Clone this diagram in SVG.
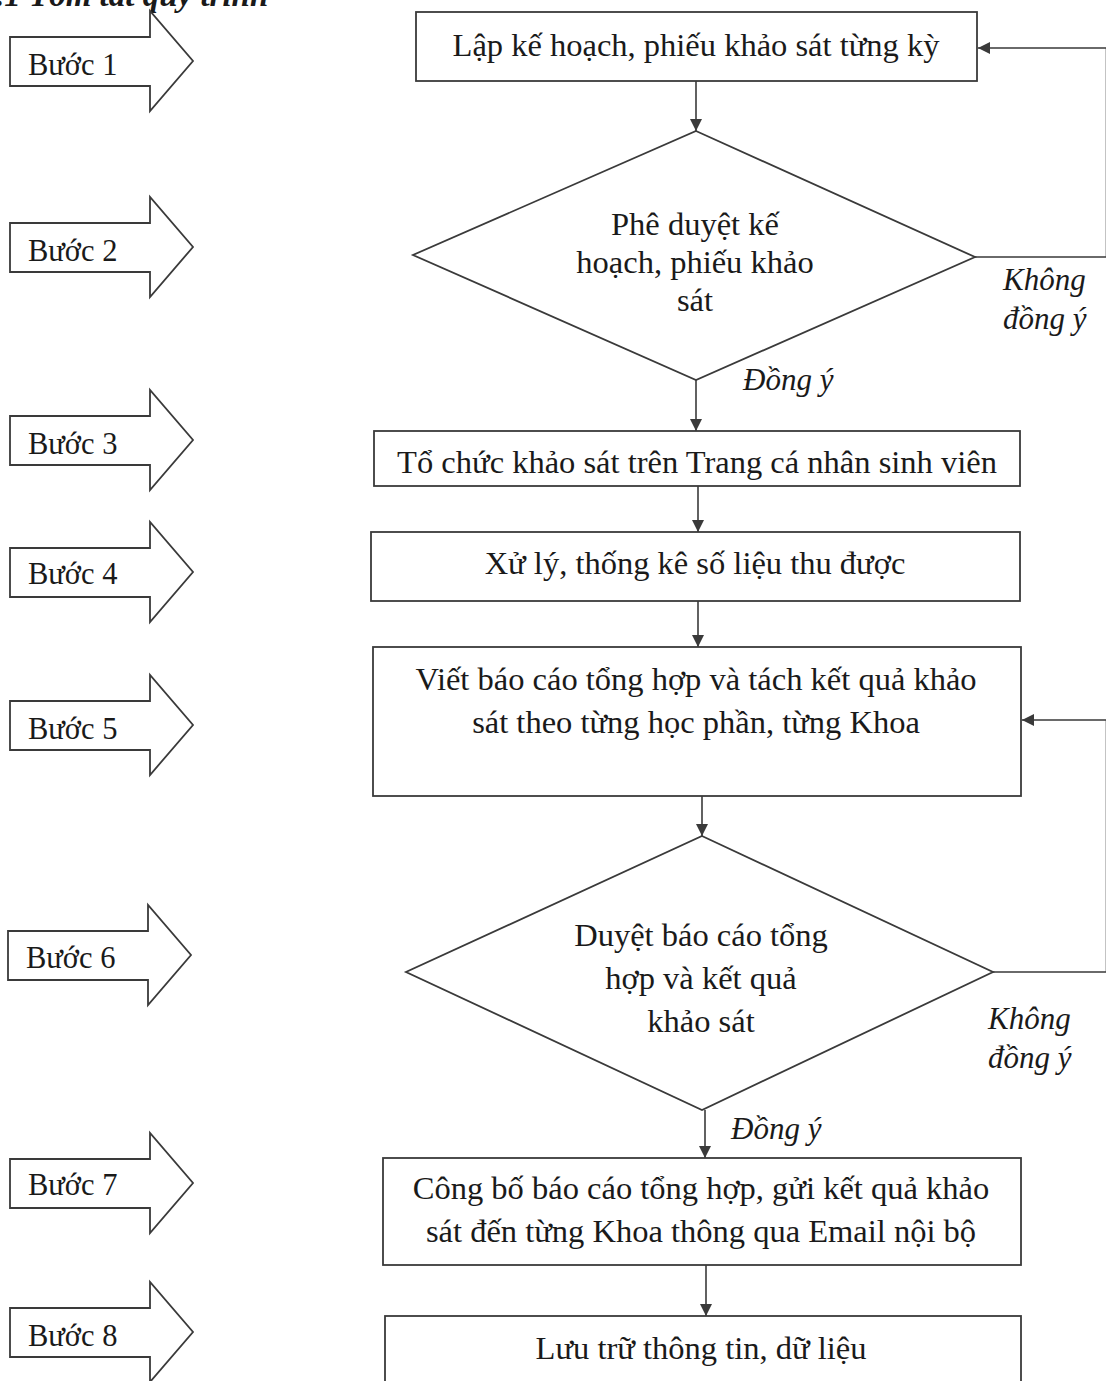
<svg xmlns="http://www.w3.org/2000/svg" xmlns:xlink="http://www.w3.org/1999/xlink" width="1106" height="1381" viewBox="0 0 1106 1381">
<style>
.shape{fill:#fff;stroke:#3a3a3a;stroke-width:1.8}
.conn{fill:none;stroke:#3a3a3a;stroke-width:1.6}
.t{font-family:"Liberation Serif","Times New Roman",serif;font-size:32.5px;fill:#1a1a1a}
.s{font-size:30.5px}
.c{text-anchor:middle}
.i{font-style:italic;font-size:31px}
.title{font-family:"Liberation Serif","Times New Roman",serif;font-size:33px;font-weight:bold;font-style:italic;fill:#1a1a1a}
</style>
<defs>
<marker id="ah" viewBox="0 0 10 10" refX="10" refY="5" markerWidth="12" markerHeight="12" markerUnits="userSpaceOnUse" orient="auto">
<path d="M0,0 L10,5 L0,10 Z" fill="#3a3a3a"/>
</marker>
<path id="blk" d="M0,-24 L140,-24 L140,-50 L183,0 L140,50 L140,25 L0,25 Z"/>
</defs>
<rect width="1106" height="1381" fill="#fff"/>
<text class="title" x="-4" y="6">.1 Tóm tắt quy trình</text>

<g id="step1"><use xlink:href="#blk" class="shape" transform="translate(10,61)"/><text class="t s" x="28" y="75">Bước 1</text></g>
<g id="step2"><use xlink:href="#blk" class="shape" transform="translate(10,247)"/><text class="t s" x="28" y="261">Bước 2</text></g>
<g id="step3"><use xlink:href="#blk" class="shape" transform="translate(10,440)"/><text class="t s" x="28" y="454">Bước 3</text></g>
<g id="step4"><use xlink:href="#blk" class="shape" transform="translate(10,572)"/><text class="t s" x="28" y="584">Bước 4</text></g>
<g id="step5"><use xlink:href="#blk" class="shape" transform="translate(10,725)"/><text class="t s" x="28" y="739">Bước 5</text></g>
<g id="step6"><use xlink:href="#blk" class="shape" transform="translate(8,955)"/><text class="t s" x="26" y="968">Bước 6</text></g>
<g id="step7"><use xlink:href="#blk" class="shape" transform="translate(10,1183)"/><text class="t s" x="28" y="1195">Bước 7</text></g>
<g id="step8"><use xlink:href="#blk" class="shape" transform="translate(10,1332)"/><text class="t s" x="28" y="1346">Bước 8</text></g>

<g id="connectors">
<line class="conn" x1="696" y1="81" x2="696" y2="131" marker-end="url(#ah)"/>
<line class="conn" x1="696" y1="380" x2="696" y2="431" marker-end="url(#ah)"/>
<line class="conn" x1="698" y1="486" x2="698" y2="532" marker-end="url(#ah)"/>
<line class="conn" x1="698" y1="601" x2="698" y2="647" marker-end="url(#ah)"/>
<line class="conn" x1="702" y1="796" x2="702" y2="836" marker-end="url(#ah)"/>
<line class="conn" x1="705" y1="1110" x2="705" y2="1158" marker-end="url(#ah)"/>
<line class="conn" x1="706" y1="1265" x2="706" y2="1316" marker-end="url(#ah)"/>
<polyline class="conn" points="975,257 1106.5,257 1106.5,48 978,48" marker-end="url(#ah)"/>
<polyline class="conn" points="993,972 1106.5,972 1106.5,720 1022,720" marker-end="url(#ah)"/>
<text class="t i" x="1003" y="290">Không</text>
<text class="t i" x="1003" y="329">đồng ý</text>
<text class="t i" x="743" y="390">Đồng ý</text>
<text class="t i" x="988" y="1029">Không</text>
<text class="t i" x="988" y="1068">đồng ý</text>
<text class="t i" x="731" y="1139">Đồng ý</text>
</g>

<g id="n1"><rect class="shape" x="416" y="12" width="561" height="69"/><text class="t c" x="696" y="56">Lập kế hoạch, phiếu khảo sát từng kỳ</text></g>
<g id="n2"><polygon class="shape" points="696,131 975,257 696,380 413,255"/><text class="t c" x="695" y="235">Phê duyệt kế</text><text class="t c" x="695" y="273">hoạch, phiếu khảo</text><text class="t c" x="695" y="311">sát</text></g>
<g id="n3"><rect class="shape" x="374" y="431" width="646" height="55"/><text class="t c" x="697" y="473">Tổ chức khảo sát trên Trang cá nhân sinh viên</text></g>
<g id="n4"><rect class="shape" x="371" y="532" width="649" height="69"/><text class="t c" x="695" y="574">Xử lý, thống kê số liệu thu được</text></g>
<g id="n5"><rect class="shape" x="373" y="647" width="648" height="149"/><text class="t c" x="696" y="690">Viết báo cáo tổng hợp và tách kết quả khảo</text><text class="t c" x="696" y="733">sát theo từng học phần, từng Khoa</text></g>
<g id="n6"><polygon class="shape" points="702,836 993,972 702,1110 406,972"/><text class="t c" x="701" y="946">Duyệt báo cáo tổng</text><text class="t c" x="701" y="989">hợp và kết quả</text><text class="t c" x="701" y="1032">khảo sát</text></g>
<g id="n7"><rect class="shape" x="383" y="1158" width="638" height="107"/><text class="t c" x="701" y="1199">Công bố báo cáo tổng hợp, gửi kết quả khảo</text><text class="t c" x="701" y="1242">sát đến từng Khoa thông qua Email nội bộ</text></g>
<g id="n8"><rect class="shape" x="385" y="1316" width="636" height="80"/><text class="t c" x="701" y="1359">Lưu trữ thông tin, dữ liệu</text></g>
</svg>
